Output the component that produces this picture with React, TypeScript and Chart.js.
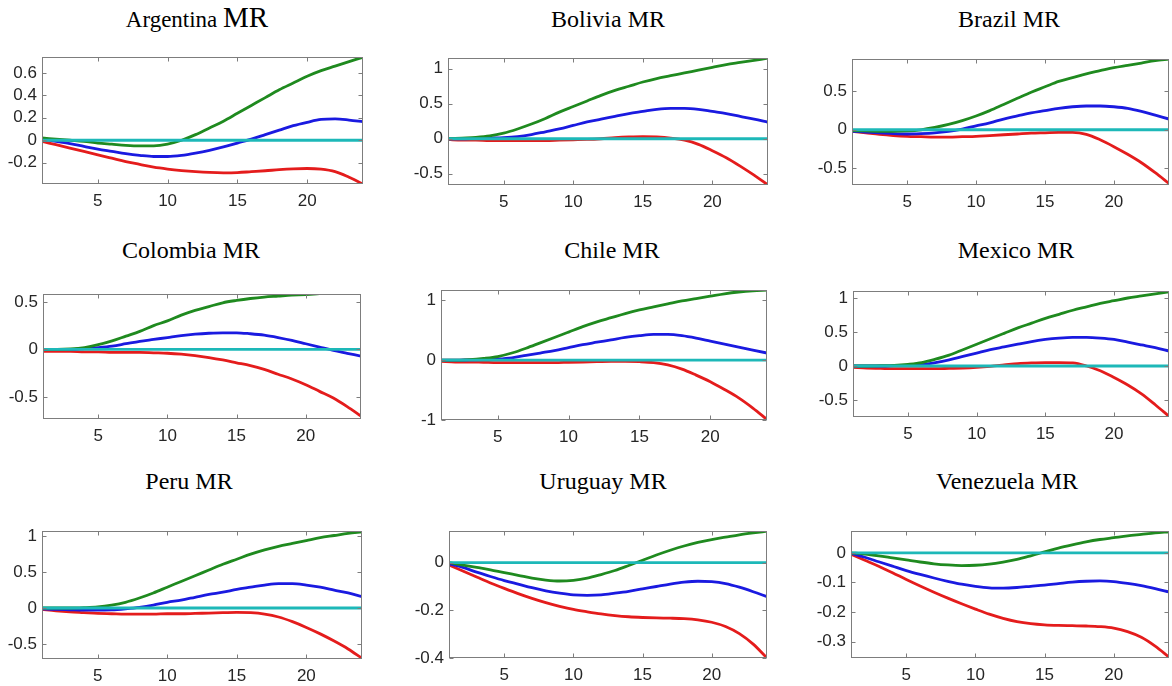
import React, { useEffect, useRef } from "react";
import { Chart, registerables } from "chart.js";

Chart.register(...registerables);

// ---------------- data ----------------
const X = [1, 2, 3, 4, 5, 6, 7, 8, 9, 10, 11, 12, 13, 14, 15, 16, 17, 18, 19, 20, 21, 22, 23, 24];
const X_TICKS = [5, 10, 15, 20];
const ZERO = [0, 0, 0, 0, 0, 0, 0, 0, 0, 0, 0, 0, 0, 0, 0, 0, 0, 0, 0, 0, 0, 0, 0, 0];

const ARG_UPPER = [0.02, 0.01, 0.0, -0.01, -0.025, -0.035, -0.045, -0.05, -0.05, -0.035, 0.0, 0.05, 0.11, 0.17, 0.24, 0.31, 0.38, 0.45, 0.51, 0.57, 0.62, 0.66, 0.7, 0.74];
const ARG_MEDIAN = [0.01, -0.01, -0.03, -0.055, -0.08, -0.1, -0.12, -0.135, -0.145, -0.145, -0.135, -0.115, -0.09, -0.06, -0.025, 0.01, 0.05, 0.09, 0.13, 0.16, 0.185, 0.19, 0.18, 0.165];
const ARG_LOWER = [-0.01, -0.04, -0.07, -0.1, -0.13, -0.16, -0.19, -0.215, -0.24, -0.257, -0.27, -0.28, -0.287, -0.29, -0.288, -0.28, -0.272, -0.262, -0.255, -0.252, -0.258, -0.28, -0.33, -0.39];
const ARG_Y_TICKS = [-0.2, 0, 0.2, 0.4, 0.6];
const ARG_Y_RANGE = [-0.39, 0.74];

const BOL_UPPER = [0.0, 0.01, 0.02, 0.04, 0.08, 0.14, 0.21, 0.29, 0.38, 0.46, 0.54, 0.62, 0.69, 0.75, 0.81, 0.86, 0.9, 0.94, 0.98, 1.02, 1.06, 1.09, 1.12, 1.15];
const BOL_MEDIAN = [0.0, 0.0, 0.005, 0.01, 0.015, 0.03, 0.06, 0.1, 0.14, 0.19, 0.24, 0.28, 0.32, 0.36, 0.39, 0.42, 0.435, 0.435, 0.42, 0.39, 0.36, 0.32, 0.28, 0.235];
const BOL_LOWER = [-0.01, -0.02, -0.02, -0.025, -0.025, -0.025, -0.025, -0.025, -0.02, -0.015, -0.01, 0.0, 0.015, 0.025, 0.03, 0.025, 0.01, -0.02, -0.08, -0.17, -0.27, -0.39, -0.52, -0.66];
const BOL_Y_TICKS = [-0.5, 0, 0.5, 1];
const BOL_Y_RANGE = [-0.66, 1.15];

const BRA_UPPER = [-0.01, -0.015, -0.02, -0.02, -0.015, 0.0, 0.03, 0.07, 0.12, 0.18, 0.25, 0.33, 0.41, 0.49, 0.56, 0.63, 0.68, 0.73, 0.77, 0.81, 0.84, 0.87, 0.9, 0.92];
const BRA_MEDIAN = [-0.02, -0.03, -0.04, -0.05, -0.055, -0.05, -0.04, -0.02, 0.01, 0.05, 0.09, 0.14, 0.18, 0.22, 0.25, 0.28, 0.3, 0.31, 0.31, 0.3, 0.28, 0.24, 0.19, 0.14];
const BRA_LOWER = [-0.02, -0.04, -0.06, -0.075, -0.085, -0.09, -0.095, -0.095, -0.09, -0.085, -0.075, -0.065, -0.055, -0.045, -0.04, -0.035, -0.035, -0.06, -0.13, -0.22, -0.32, -0.43, -0.56, -0.7];
const BRA_Y_TICKS = [-0.5, 0, 0.5];
const BRA_Y_RANGE = [-0.72, 0.92];

const COL_UPPER = [0.0, 0.0, 0.005, 0.02, 0.05, 0.09, 0.14, 0.19, 0.25, 0.3, 0.36, 0.41, 0.45, 0.49, 0.515, 0.535, 0.55, 0.56, 0.57, 0.575, 0.585, 0.59, 0.595, 0.6];
const COL_MEDIAN = [0.0, 0.0, 0.0, 0.01, 0.02, 0.035, 0.06, 0.085, 0.105, 0.125, 0.145, 0.16, 0.17, 0.175, 0.175, 0.165, 0.15, 0.125, 0.095, 0.06, 0.025, -0.01, -0.04, -0.07];
const COL_LOWER = [-0.02, -0.02, -0.02, -0.025, -0.025, -0.03, -0.03, -0.03, -0.035, -0.04, -0.05, -0.065, -0.085, -0.11, -0.14, -0.17, -0.21, -0.26, -0.31, -0.37, -0.44, -0.51, -0.6, -0.7];
const COL_Y_TICKS = [-0.5, 0, 0.5];
const COL_Y_RANGE = [-0.73, 0.58];

const CHL_UPPER = [0.0, 0.0, 0.01, 0.03, 0.06, 0.12, 0.2, 0.29, 0.38, 0.47, 0.56, 0.64, 0.71, 0.78, 0.84, 0.89, 0.94, 0.99, 1.03, 1.07, 1.11, 1.14, 1.16, 1.17];
const CHL_MEDIAN = [0.0, 0.0, 0.005, 0.01, 0.02, 0.04, 0.08, 0.12, 0.16, 0.21, 0.26, 0.3, 0.34, 0.38, 0.41, 0.43, 0.43, 0.41, 0.37, 0.32, 0.27, 0.22, 0.17, 0.12];
const CHL_LOWER = [-0.02, -0.03, -0.03, -0.035, -0.04, -0.04, -0.04, -0.04, -0.04, -0.035, -0.03, -0.025, -0.02, -0.02, -0.025, -0.04, -0.08, -0.15, -0.25, -0.36, -0.49, -0.63, -0.8, -0.99];
const CHL_Y_TICKS = [-1, 0, 1];
const CHL_Y_RANGE = [-1.0, 1.17];

const MEX_UPPER = [0.0, 0.0, 0.005, 0.01, 0.025, 0.05, 0.1, 0.16, 0.24, 0.32, 0.4, 0.48, 0.56, 0.63, 0.7, 0.76, 0.82, 0.87, 0.92, 0.96, 1.0, 1.03, 1.06, 1.09];
const MEX_MEDIAN = [0.0, 0.0, 0.0, 0.005, 0.01, 0.02, 0.05, 0.09, 0.14, 0.19, 0.24, 0.28, 0.32, 0.36, 0.39, 0.41, 0.42, 0.42, 0.41, 0.39, 0.35, 0.31, 0.27, 0.22];
const MEX_LOWER = [-0.02, -0.03, -0.035, -0.04, -0.04, -0.04, -0.04, -0.035, -0.03, -0.02, -0.005, 0.015, 0.035, 0.045, 0.05, 0.05, 0.045, 0.0, -0.07, -0.17, -0.28, -0.41, -0.57, -0.74];
const MEX_Y_TICKS = [-0.5, 0, 0.5, 1];
const MEX_Y_RANGE = [-0.75, 1.1];

const PER_UPPER = [0.0, 0.0, 0.0, 0.005, 0.015, 0.04, 0.08, 0.14, 0.21, 0.29, 0.37, 0.45, 0.53, 0.61, 0.68, 0.75, 0.81, 0.86, 0.9, 0.94, 0.98, 1.01, 1.04, 1.06];
const PER_MEDIAN = [-0.01, -0.02, -0.025, -0.03, -0.03, -0.025, -0.01, 0.01, 0.04, 0.08, 0.11, 0.15, 0.19, 0.22, 0.26, 0.29, 0.32, 0.34, 0.34, 0.32, 0.29, 0.25, 0.21, 0.16];
const PER_LOWER = [-0.02, -0.04, -0.055, -0.065, -0.075, -0.08, -0.085, -0.085, -0.085, -0.08, -0.08, -0.075, -0.07, -0.065, -0.06, -0.065, -0.085, -0.125, -0.19, -0.27, -0.36, -0.46, -0.57, -0.7];
const PER_Y_TICKS = [-0.5, 0, 0.5, 1];
const PER_Y_RANGE = [-0.71, 1.07];

const URU_UPPER = [0.0, -0.01, -0.02, -0.03, -0.042, -0.053, -0.065, -0.073, -0.077, -0.074, -0.065, -0.05, -0.033, -0.012, 0.01, 0.032, 0.052, 0.07, 0.085, 0.097, 0.107, 0.117, 0.125, 0.132];
const URU_MEDIAN = [-0.005, -0.02, -0.04, -0.058, -0.075, -0.09, -0.105, -0.118, -0.128, -0.135, -0.137, -0.135, -0.128, -0.12, -0.11, -0.1, -0.09, -0.082, -0.078, -0.08, -0.088, -0.103, -0.122, -0.143];
const URU_LOWER = [-0.01, -0.035, -0.06, -0.085, -0.108, -0.13, -0.15, -0.168, -0.183, -0.196, -0.206, -0.215, -0.222, -0.227, -0.23, -0.232, -0.233, -0.235, -0.24, -0.25, -0.268, -0.298, -0.342, -0.4];
const URU_Y_TICKS = [-0.4, -0.2, 0];
const URU_Y_RANGE = [-0.4, 0.132];

const VEN_UPPER = [0.0, -0.004, -0.01, -0.017, -0.024, -0.031, -0.037, -0.041, -0.043, -0.042, -0.038, -0.031, -0.022, -0.01, 0.003, 0.016, 0.027, 0.037, 0.045, 0.051, 0.057, 0.062, 0.067, 0.071];
const VEN_MEDIAN = [-0.002, -0.015, -0.03, -0.045, -0.06, -0.073, -0.085, -0.096, -0.106, -0.113, -0.118, -0.119, -0.117, -0.113, -0.109, -0.104, -0.099, -0.096, -0.095, -0.097, -0.103, -0.111, -0.121, -0.132];
const VEN_LOWER = [-0.005, -0.025, -0.045, -0.067, -0.09, -0.112, -0.133, -0.153, -0.172, -0.19, -0.207, -0.221, -0.232, -0.239, -0.243, -0.245, -0.246, -0.247, -0.249, -0.254, -0.266, -0.285, -0.315, -0.352];
const VEN_Y_TICKS = [-0.3, -0.2, -0.1, 0];
const VEN_Y_RANGE = [-0.355, 0.073];

const PANELS = [
  { name: "Argentina", upper: ARG_UPPER, median: ARG_MEDIAN, lower: ARG_LOWER, yTicks: ARG_Y_TICKS, yRange: ARG_Y_RANGE },
  { name: "Bolivia", upper: BOL_UPPER, median: BOL_MEDIAN, lower: BOL_LOWER, yTicks: BOL_Y_TICKS, yRange: BOL_Y_RANGE },
  { name: "Brazil", upper: BRA_UPPER, median: BRA_MEDIAN, lower: BRA_LOWER, yTicks: BRA_Y_TICKS, yRange: BRA_Y_RANGE },
  { name: "Colombia", upper: COL_UPPER, median: COL_MEDIAN, lower: COL_LOWER, yTicks: COL_Y_TICKS, yRange: COL_Y_RANGE },
  { name: "Chile", upper: CHL_UPPER, median: CHL_MEDIAN, lower: CHL_LOWER, yTicks: CHL_Y_TICKS, yRange: CHL_Y_RANGE },
  { name: "Mexico", upper: MEX_UPPER, median: MEX_MEDIAN, lower: MEX_LOWER, yTicks: MEX_Y_TICKS, yRange: MEX_Y_RANGE },
  { name: "Peru", upper: PER_UPPER, median: PER_MEDIAN, lower: PER_LOWER, yTicks: PER_Y_TICKS, yRange: PER_Y_RANGE },
  { name: "Uruguay", upper: URU_UPPER, median: URU_MEDIAN, lower: URU_LOWER, yTicks: URU_Y_TICKS, yRange: URU_Y_RANGE },
  { name: "Venezuela", upper: VEN_UPPER, median: VEN_MEDIAN, lower: VEN_LOWER, yTicks: VEN_Y_TICKS, yRange: VEN_Y_RANGE },
];

// ---------------- layout / style ----------------
// plot-area boxes (left, top, right, bottom) and title anchor (center x, baseline y)
const LAYOUT = [
  { l: 42, t: 44, r: 363, b: 184, tx: 197, ty: 27 },
  { l: 448, t: 45, r: 768, b: 185, tx: 608, ty: 27 },
  { l: 852, t: 46, r: 1169, b: 185, tx: 1009, ty: 27 },
  { l: 43, t: 281, r: 361, b: 419, tx: 191, ty: 258 },
  { l: 441, t: 277, r: 767, b: 420, tx: 612, ty: 258 },
  { l: 853, t: 278, r: 1169, b: 417, tx: 1016, ty: 258 },
  { l: 42, t: 518, r: 362, b: 659, tx: 189, ty: 489 },
  { l: 449, t: 518, r: 767, b: 658, tx: 603, ty: 489 },
  { l: 851, t: 518, r: 1169, b: 658, tx: 1007, ty: 489 },
];

const Y_AXIS_W = 40;
const X_AXIS_H = 32;
const PAD_T = 2;
const PAD_R = 2;
const GREEN = "#1f8a1f";
const BLUE = "#1a1ae0";
const RED = "#e41c1c";
const CYAN = "#1db8b8";
const TICK_FONT = { family: "'Liberation Sans', Arial, Helvetica, sans-serif", size: 17 };
const TICK_COLOR = "#262626";
const TITLE_FONT = "'Liberation Serif', 'Times New Roman', Times, serif";
const TITLE_SIZE = 24;

const boxPlugin = {
  id: "matlabBox",
  afterDatasetsDraw(chart: any) {
    const { ctx, chartArea: a, scales } = chart;
    ctx.save();
    ctx.strokeStyle = "#7d7d7d";
    ctx.lineWidth = 1;
    const L = Math.round(a.left) + 0.5;
    const R = Math.round(a.right) - 0.5;
    const T = Math.round(a.top) + 0.5;
    const B = Math.round(a.bottom) - 0.5;
    ctx.strokeRect(L, T, R - L, B - T);
    const tl = 4;
    ctx.beginPath();
    for (const t of scales.x.ticks) {
      const px = Math.round(scales.x.getPixelForValue(t.value)) + 0.5;
      ctx.moveTo(px, B);
      ctx.lineTo(px, B - tl);
      ctx.moveTo(px, T);
      ctx.lineTo(px, T + tl);
    }
    for (const t of scales.y.ticks) {
      const py = Math.round(scales.y.getPixelForValue(t.value)) + 0.5;
      ctx.moveTo(L, py);
      ctx.lineTo(L + tl, py);
      ctx.moveTo(R, py);
      ctx.lineTo(R - tl, py);
    }
    ctx.stroke();
    ctx.restore();
  },
};

const pts = (vals: number[]) => vals.map((v, i) => ({ x: X[i], y: v }));
const fmt = (v: number) => String(Math.round(v * 100) / 100);

function Panel({ p, lay }: { p: any; lay: any }) {
  const ref = useRef<HTMLCanvasElement>(null);
  const w = lay.r - lay.l + Y_AXIS_W + PAD_R;
  const h = lay.b - lay.t + PAD_T + X_AXIS_H;

  useEffect(() => {
    if (!ref.current) return;
    const line = (vals: number[], color: string) => ({
      data: pts(vals),
      borderColor: color,
      backgroundColor: color,
      borderWidth: 2.8,
      pointRadius: 0,
      fill: false,
      cubicInterpolationMode: "monotone" as const,
    });
    const chart = new Chart(ref.current, {
      type: "line",
      data: {
        datasets: [
          line(ZERO, CYAN),
          line(p.upper, GREEN),
          line(p.median, BLUE),
          line(p.lower, RED),
        ],
      },
      options: {
        animation: false,
        responsive: false,
        devicePixelRatio: 1,
        events: [],
        layout: { padding: { top: PAD_T, right: PAD_R, left: 0, bottom: 0 } },
        plugins: { legend: { display: false }, tooltip: { enabled: false }, title: { display: false } },
        scales: {
          x: {
            type: "linear",
            min: 1,
            max: 24,
            grid: { display: false, drawTicks: false },
            border: { display: false },
            afterBuildTicks: (s: any) => {
              s.ticks = X_TICKS.map((v) => ({ value: v }));
            },
            afterFit: (s: any) => {
              s.height = X_AXIS_H;
            },
            ticks: {
              font: TICK_FONT,
              color: TICK_COLOR,
              padding: 7,
              maxRotation: 0,
              autoSkip: false,
              callback: (v: any) => fmt(Number(v)),
            },
          },
          y: {
            type: "linear",
            min: p.yRange[0],
            max: p.yRange[1],
            grid: { display: false, drawTicks: false },
            border: { display: false },
            afterBuildTicks: (s: any) => {
              s.ticks = p.yTicks.map((v: number) => ({ value: v }));
            },
            afterFit: (s: any) => {
              s.width = Y_AXIS_W;
            },
            ticks: {
              font: TICK_FONT,
              color: TICK_COLOR,
              padding: 5,
              autoSkip: false,
              callback: (v: any) => fmt(Number(v)),
            },
          },
        },
      } as any,
      plugins: [boxPlugin],
    });
    return () => chart.destroy();
  }, []);

  const isArg = p.name === "Argentina";
  const baseOff = isArg ? 22 : 20.1;
  return (
    <>
      <canvas
        ref={ref}
        width={w}
        height={h}
        style={{ position: "absolute", left: lay.l - Y_AXIS_W, top: lay.t - PAD_T, width: w, height: h }}
      />
      <div
        style={{
          position: "absolute",
          left: lay.tx,
          top: lay.ty - baseOff,
          transform: "translateX(-50%)",
          whiteSpace: "nowrap",
          fontFamily: TITLE_FONT,
          fontSize: isArg ? 23 : TITLE_SIZE,
          lineHeight: `${TITLE_SIZE}px`,
          color: "#000",
        }}
      >
        {isArg ? (
          <>
            {p.name} <span style={{ fontSize: 29 }}>MR</span>
          </>
        ) : (
          `${p.name} MR`
        )}
      </div>
    </>
  );
}

export default function App() {
  return (
    <div
      style={{
        position: "absolute",
        left: 0,
        top: 0,
        width: 1172,
        height: 686,
        overflow: "hidden",
        background: "#fff",
      }}
    >
      {PANELS.map((p, i) => (
        <Panel key={p.name} p={p} lay={LAYOUT[i]} />
      ))}
    </div>
  );
}
